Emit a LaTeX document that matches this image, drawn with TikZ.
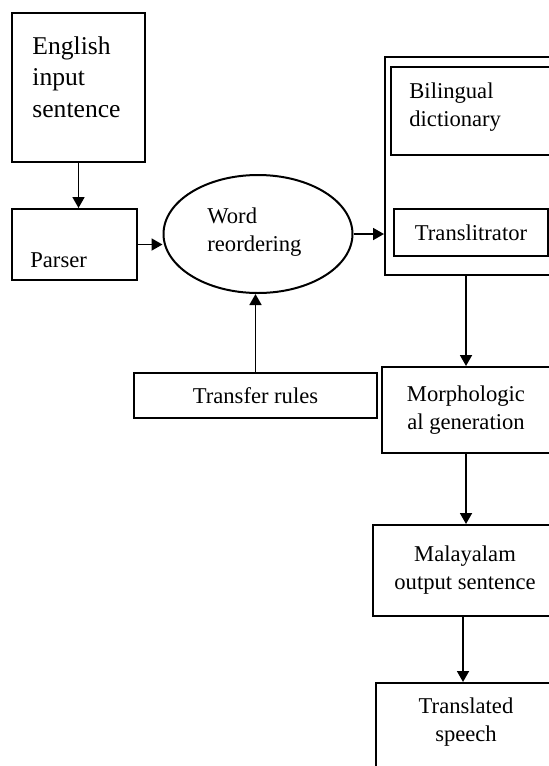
\documentclass[tikz,border=0pt]{standalone}
\usepackage{fontspec}
\setmainfont{Liberation Serif}
\usetikzlibrary{arrows.meta,shapes.geometric}

\begin{document}
\begin{tikzpicture}[x=0.5pt,y=-0.5pt,
    box/.style={draw,line width=1pt,inner sep=0pt,font=\fontsize{11.3}{14}\selectfont,align=center},
    txt/.style={inner sep=0pt,font=\fontsize{11.3}{14}\selectfont,align=left},
    arr/.style={line width=0.9pt,-{Triangle[length=5.5pt,width=6pt]}}]
    \useasboundingbox (0,0) rectangle (549,766);
    \clip (0,0) rectangle (549,766);
    % Координаты в пикселях исходного рисунка, правый край обрезан.
    \node[box,minimum width=66.5pt,minimum height=74.5pt] (english) at (78.5,87.5) {};
    \node[txt,anchor=north west,font=\fontsize{12.8}{15.75}\selectfont] (englishtxt) at (32,36) {English\\input\\sentence};
    \node[box,minimum width=62.5pt,minimum height=35.5pt] (parser) at (74.5,244.5) {};
    \node[txt,anchor=base west] (parsertxt) at (30,267) {Parser};
    \node[box,ellipse,minimum width=94.5pt,minimum height=59pt] (reorder) at (258,234) {};
    \node[txt,anchor=north west] (reordertxt) at (207,207) {Word\\reordering};
    \node[box,minimum width=87.5pt,minimum height=109pt] (dict) at (472.5,166) {};
    \node[box,minimum width=84.5pt,minimum height=44pt] (biling) at (475.5,111) {};
    \node[txt,anchor=north west] (bilingtxt) at (409,82) {Bilingual\\dictionary};
    \node[box,minimum width=77pt,minimum height=23.5pt] (translit) at (471,232.5) {Translitrator};
    \node[box,minimum width=121.5pt,minimum height=22.5pt] (transfer) at (255.5,395.5) {Transfer rules};
    \node[box,minimum width=84pt,minimum height=43pt] (morph) at (466,410) {Morphologic\\al generation};
    \node[box,minimum width=92pt,minimum height=45.5pt] (malay) at (465,570.5) {Malayalam\\output sentence};
    \node[box,minimum width=90pt,minimum height=53.5pt] (speech) at (466,736.5) {};
    \node[txt,anchor=north,align=center] (speechtxt) at (466,697) {Translated\\speech};

    \draw[arr] (english.south) -- (english.south |- parser.north);
    \draw[arr] (parser.east) -- (parser.east -| reorder.west);
    \draw[arr] (reorder.east) -- (reorder.east -| dict.west);
    \draw[arr] (transfer.north) -- (transfer.north |- reorder.south);
    \draw[arr] (morph.north |- dict.south) -- (morph.north);
    \draw[arr] (morph.south) -- (malay.north -| morph.south);
    \draw[arr] ([xshift=-1pt]malay.south) -- ([xshift=-1pt]malay.south |- speech.north);
\end{tikzpicture}
\end{document}
